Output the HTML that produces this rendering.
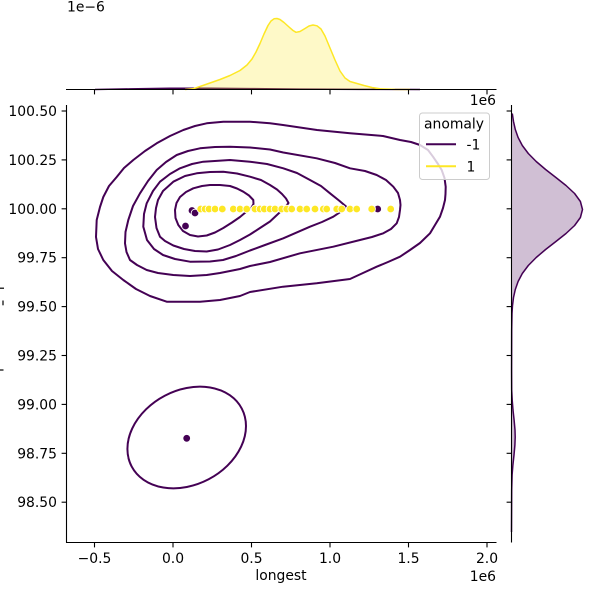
<!DOCTYPE html>
<html>
<head>
<meta charset="utf-8">
<style>
  html, body { margin: 0; padding: 0; background: #ffffff; }
  svg { display: block; }
  text { font-family: "DejaVu Sans", "Liberation Sans", sans-serif; font-size: 13.9px; fill: #000; }
</style>
</head>
<body>
<svg width="600" height="600" viewBox="0 0 600 600" xmlns="http://www.w3.org/2000/svg">
  <rect x="0" y="0" width="600" height="600" fill="#ffffff"/>

  <!-- ===== Top marginal ===== -->
  <text x="67" y="11.5">1e−6</text>
  <!-- purple tiny density -->
  <path d="M95,89.5 L130,88.9 L170,88.3 L210,88.2 L250,88.6 L300,89.1 L360,89.4 L420,89.5 Z" fill="#440154" fill-opacity="0.25" stroke="none"/>
  <path d="M95,89.5 L130,88.9 L170,88.3 L210,88.2 L250,88.6 L300,89.1 L360,89.4 L420,89.5" fill="none" stroke="#440154" stroke-width="1.5"/>
  <!-- yellow density -->
  <path d="M185,89.5 L193,88.8 L200,86.5 L210,83 L220,79.5 L230,75.5 L240,70.5 L247,65 L252,59 L256,52 L260,43.5 L264,34 L268,25.5 L271,21 L274,18.8 L277,18.5 L280,19.5 L284,22.5 L289,27 L293,30.5 L296,32.3 L300,31.5 L305,28.5 L309,26 L313,25 L317,25.8 L321,29 L325,36 L330,48 L335,60 L340,71 L345,78 L350,81.5 L357,83.5 L364,85.5 L372,87.5 L380,88.8 L395,89.4 L410,89.5 Z" fill="#fde725" fill-opacity="0.25" stroke="none"/>
  <path d="M185,89.5 L193,88.8 L200,86.5 L210,83 L220,79.5 L230,75.5 L240,70.5 L247,65 L252,59 L256,52 L260,43.5 L264,34 L268,25.5 L271,21 L274,18.8 L277,18.5 L280,19.5 L284,22.5 L289,27 L293,30.5 L296,32.3 L300,31.5 L305,28.5 L309,26 L313,25 L317,25.8 L321,29 L325,36 L330,48 L335,60 L340,71 L345,78 L350,81.5 L357,83.5 L364,85.5 L372,87.5 L380,88.8 L395,89.4 L410,89.5" fill="none" stroke="#fde725" stroke-width="1.5" stroke-linejoin="round"/>
  <!-- top marginal spine + ticks -->
  <line x1="66" y1="89.5" x2="496.5" y2="89.5" stroke="#000" stroke-width="1.1"/>
  <g stroke="#000" stroke-width="1.1">
    <line x1="94.5" y1="89.5" x2="94.5" y2="94.4"/>
    <line x1="173" y1="89.5" x2="173" y2="94.4"/>
    <line x1="251.5" y1="89.5" x2="251.5" y2="94.4"/>
    <line x1="330" y1="89.5" x2="330" y2="94.4"/>
    <line x1="408.5" y1="89.5" x2="408.5" y2="94.4"/>
    <line x1="487" y1="89.5" x2="487" y2="94.4"/>
  </g>

  <!-- ===== Right marginal ===== -->
  <path d="M511.5,113 L512.3,113.5 L513.5,121.5 L515.3,129.5 L518.1,137.5 L522.3,145.5 L528.3,153.5 L536.2,161.5 L545.6,169.5 L555.9,177.5 L566,185.5 L574.6,193.5 L580.4,201.5 L582.5,209.5 L580.4,217.5 L574.6,225.5 L566,233.5 L555.9,241.5 L545.6,249.5 L536.2,257.5 L528.3,265.5 L522.3,273.5 L518.1,281.5 L515.3,289.5 L513.5,297.5 L512.5,305.5 L512,313.5 L511.7,330 L511.6,370 L511.7,390 L512.2,400 L513,410 L514.1,420 L515,430 L515.2,437 L514.9,445 L514,455 L512.9,465 L512.1,475 L511.7,490 L511.5,532 Z" fill="#440154" fill-opacity="0.25" stroke="none"/>
  <path d="M512.3,113.5 L513.5,121.5 L515.3,129.5 L518.1,137.5 L522.3,145.5 L528.3,153.5 L536.2,161.5 L545.6,169.5 L555.9,177.5 L566,185.5 L574.6,193.5 L580.4,201.5 L582.5,209.5 L580.4,217.5 L574.6,225.5 L566,233.5 L555.9,241.5 L545.6,249.5 L536.2,257.5 L528.3,265.5 L522.3,273.5 L518.1,281.5 L515.3,289.5 L513.5,297.5 L512.5,305.5 L512,313.5 L511.7,330 L511.6,370 L511.7,390 L512.2,400 L513,410 L514.1,420 L515,430 L515.2,437 L514.9,445 L514,455 L512.9,465 L512.1,475 L511.7,490 L511.5,532" fill="none" stroke="#440154" stroke-width="1.5" stroke-linejoin="round"/>
  <line x1="511.5" y1="105" x2="511.5" y2="542.5" stroke="#000" stroke-width="1.1"/>
  <g stroke="#000" stroke-width="1.1">
    <line x1="506.6" y1="111" x2="511.5" y2="111"/>
    <line x1="506.6" y1="159.9" x2="511.5" y2="159.9"/>
    <line x1="506.6" y1="208.8" x2="511.5" y2="208.8"/>
    <line x1="506.6" y1="257.7" x2="511.5" y2="257.7"/>
    <line x1="506.6" y1="306.6" x2="511.5" y2="306.6"/>
    <line x1="506.6" y1="355.5" x2="511.5" y2="355.5"/>
    <line x1="506.6" y1="404.4" x2="511.5" y2="404.4"/>
    <line x1="506.6" y1="453.3" x2="511.5" y2="453.3"/>
    <line x1="506.6" y1="502.2" x2="511.5" y2="502.2"/>
  </g>

  <!-- ===== Main axes: contours ===== -->
  <g fill="none" stroke="#440154" stroke-width="2" stroke-linejoin="round">
    <path d="M96,237 L96.7,220 L100,207 L103.3,197 L109,186 L116.7,177 L124,168 L133.3,160 L145,151 L156.7,143.3 L170,136 L183.3,130 L195,126 L206.7,123.3 L223.3,121.7 L250,121.7 L270,123.3 L283,125 L317,130 L350,133.3 L383,136 L400,140 L411,142 L420,145 L428,150 L433,156.7 L438,164 L441.7,170 L444.5,178 L445.7,186.7 L445.5,194 L445,200 L443,208 L440,216.7 L435,225 L430,233.3 L420,243 L410,250 L400,256.7 L388,262 L376.7,266.7 L363,273 L350,279 L316.7,283.3 L283,286.7 L250,292 L240,296 L220,300 L200,301.7 L166.7,301.7 L150,296 L136,289 L123.3,280 L112,271 L103.3,260 L98,249 Z"/>
    <path d="M125,243.3 L125.5,232 L128.3,220 L133,206 L140,193.3 L148,181 L156.7,170 L166,162 L176.7,155 L188,151 L200,148.3 L215,147 L230,146.7 L250,147.5 L270,149.5 L283.3,152.5 L316.7,158.3 L335,163 L350,168.3 L365,171 L376.7,175 L386,180 L393.3,186.7 L398,193 L400,200 L400.5,205 L400,210 L399,217 L396.7,223.3 L391,229 L383.3,233.3 L372,237 L360,240 L333.3,246.7 L300,253.3 L270,262 L250,266 L240,269 L220,273 L206.7,275 L190,276 L173.3,275 L158,273 L146.7,270 L137,265 L130,260 L126.5,252 Z"/>
    <path d="M143.3,226.7 L144,214 L146.7,203.3 L153,191 L160,181.7 L170,174 L180,168.3 L192,164 L203.3,161.7 L230,160 L250,161.7 L267,164 L283.3,168.3 L297,173 L310,180 L321,186 L330,193.3 L339,200.5 L346.7,207 L341,211.5 L333.3,216.7 L322,222 L310,226.7 L283.3,238.3 L265,245 L250,250.5 L236,256 L223,260 L210,261.5 L190,261.7 L175,259 L163,255 L154,249 L147,240 Z"/>
    <path d="M155,217 L156,208 L158,200 L163,191 L173.3,181.7 L185,176 L196.7,173.3 L210,172 L223.3,171.7 L237,173.5 L250,176.7 L261,180 L270,185 L277,189.5 L282,194 L286,198.5 L288.5,203 L285,207.5 L278,214 L270,221.5 L260,228 L250,234.5 L240,240 L230,245 L218,249.5 L206.7,251.5 L195,251 L184,249 L173.3,245.5 L165,241 L160,236.7 L156.5,228 Z"/>
    <path d="M175,210 L176.5,203 L180,197 L186,192 L193.3,188.3 L202,186 L210,185 L220,185 L230,186 L237,188.5 L243.3,191.7 L249,195.5 L253.3,200 L253.5,204 L251.5,207.5 L246,212 L240,217 L232,222.5 L223.3,228 L215,232.5 L206.7,235.5 L198,236.5 L190,235 L183,231 L178.3,225 L175.5,218 Z"/>
    <ellipse cx="186.7" cy="437.5" rx="62.2" ry="47.2" transform="rotate(-27.7 186.7 437.5)"/>
  </g>

  <!-- ===== Scatter points ===== -->
  <g stroke="#ffffff" stroke-width="0.8">
    <circle cx="192" cy="210.5" r="3.8" fill="#440154"/>
    <circle cx="195" cy="213" r="3.8" fill="#440154"/>
    <circle cx="185.5" cy="226" r="3.8" fill="#440154"/>
    <circle cx="377.7" cy="209" r="3.8" fill="#440154"/>
    <circle cx="186.7" cy="438.3" r="3.8" fill="#440154"/>
  </g>
  <g stroke="#ffffff" stroke-width="0.8" fill="#fde725">
    <circle cx="200.7" cy="209" r="3.8"/>
    <circle cx="205" cy="209" r="3.8"/>
    <circle cx="209" cy="209" r="3.8"/>
    <circle cx="215" cy="209" r="3.8"/>
    <circle cx="222.3" cy="209" r="3.8"/>
    <circle cx="233.3" cy="209" r="3.8"/>
    <circle cx="240" cy="209" r="3.8"/>
    <circle cx="246.7" cy="209" r="3.8"/>
    <circle cx="255" cy="209" r="3.8"/>
    <circle cx="260" cy="209" r="3.8"/>
    <circle cx="264.3" cy="209" r="3.8"/>
    <circle cx="270" cy="209" r="3.8"/>
    <circle cx="275" cy="209" r="3.8"/>
    <circle cx="281.7" cy="209" r="3.8"/>
    <circle cx="286.7" cy="209" r="3.8"/>
    <circle cx="291.7" cy="209" r="3.8"/>
    <circle cx="300" cy="209" r="3.8"/>
    <circle cx="306.7" cy="209" r="3.8"/>
    <circle cx="315" cy="209" r="3.8"/>
    <circle cx="323.3" cy="209" r="3.8"/>
    <circle cx="326.7" cy="209" r="3.8"/>
    <circle cx="336.7" cy="209" r="3.8"/>
    <circle cx="341.7" cy="209" r="3.8"/>
    <circle cx="350" cy="209" r="3.8"/>
    <circle cx="356.7" cy="209" r="3.8"/>
    <circle cx="371.7" cy="209" r="3.8"/>
    <circle cx="390.7" cy="209" r="3.8"/>
  </g>

  <!-- ===== Main axes spines & ticks ===== -->
  <line x1="66.5" y1="105" x2="66.5" y2="542.5" stroke="#000" stroke-width="1.1"/>
  <line x1="66" y1="542.5" x2="496.5" y2="542.5" stroke="#000" stroke-width="1.1"/>
  <g stroke="#000" stroke-width="1.1">
    <line x1="94.5" y1="542.5" x2="94.5" y2="547.4"/>
    <line x1="173" y1="542.5" x2="173" y2="547.4"/>
    <line x1="251.5" y1="542.5" x2="251.5" y2="547.4"/>
    <line x1="330" y1="542.5" x2="330" y2="547.4"/>
    <line x1="408.5" y1="542.5" x2="408.5" y2="547.4"/>
    <line x1="487" y1="542.5" x2="487" y2="547.4"/>
    <line x1="61.6" y1="111" x2="66.5" y2="111"/>
    <line x1="61.6" y1="159.9" x2="66.5" y2="159.9"/>
    <line x1="61.6" y1="208.8" x2="66.5" y2="208.8"/>
    <line x1="61.6" y1="257.7" x2="66.5" y2="257.7"/>
    <line x1="61.6" y1="306.6" x2="66.5" y2="306.6"/>
    <line x1="61.6" y1="355.5" x2="66.5" y2="355.5"/>
    <line x1="61.6" y1="404.4" x2="66.5" y2="404.4"/>
    <line x1="61.6" y1="453.3" x2="66.5" y2="453.3"/>
    <line x1="61.6" y1="502.2" x2="66.5" y2="502.2"/>
  </g>

  <!-- x tick labels -->
  <g text-anchor="middle">
    <text x="94.5" y="563">−0.5</text>
    <text x="173" y="563">0.0</text>
    <text x="251.5" y="563">0.5</text>
    <text x="330" y="563">1.0</text>
    <text x="408.5" y="563">1.5</text>
    <text x="487" y="563">2.0</text>
  </g>
  <!-- y tick labels -->
  <g text-anchor="end">
    <text x="57" y="116">100.50</text>
    <text x="57" y="164.9">100.25</text>
    <text x="57" y="213.8">100.00</text>
    <text x="57" y="262.7">99.75</text>
    <text x="57" y="311.6">99.50</text>
    <text x="57" y="360.5">99.25</text>
    <text x="57" y="409.4">99.00</text>
    <text x="57" y="458.3">98.75</text>
    <text x="57" y="507.2">98.50</text>
  </g>

  <text x="496" y="105" text-anchor="end">1e6</text>
  <text x="496" y="581" text-anchor="end">1e6</text>
  <text x="281" y="580" text-anchor="middle">longest</text>

  <!-- clipped y-label fragments at left edge -->
  <rect x="0" y="287.6" width="4" height="1.2" fill="#000"/>
  <rect x="2.4" y="300.5" width="1.2" height="4.8" fill="#000"/>
  <rect x="0" y="369.4" width="3.5" height="1.2" fill="#000"/>

  <!-- ===== Legend ===== -->
  <rect x="419.5" y="113" width="70" height="66.5" rx="3" ry="3" fill="#ffffff" fill-opacity="0.8" stroke="#cccccc" stroke-width="1"/>
  <text x="454" y="128.5" text-anchor="middle">anomaly</text>
  <line x1="426" y1="144.3" x2="456" y2="144.3" stroke="#440154" stroke-width="2"/>
  <text x="466.5" y="149.5">-1</text>
  <line x1="426" y1="166.3" x2="456" y2="166.3" stroke="#fde725" stroke-width="2"/>
  <text x="466.5" y="171.5">1</text>
</svg>
</body>
</html>
